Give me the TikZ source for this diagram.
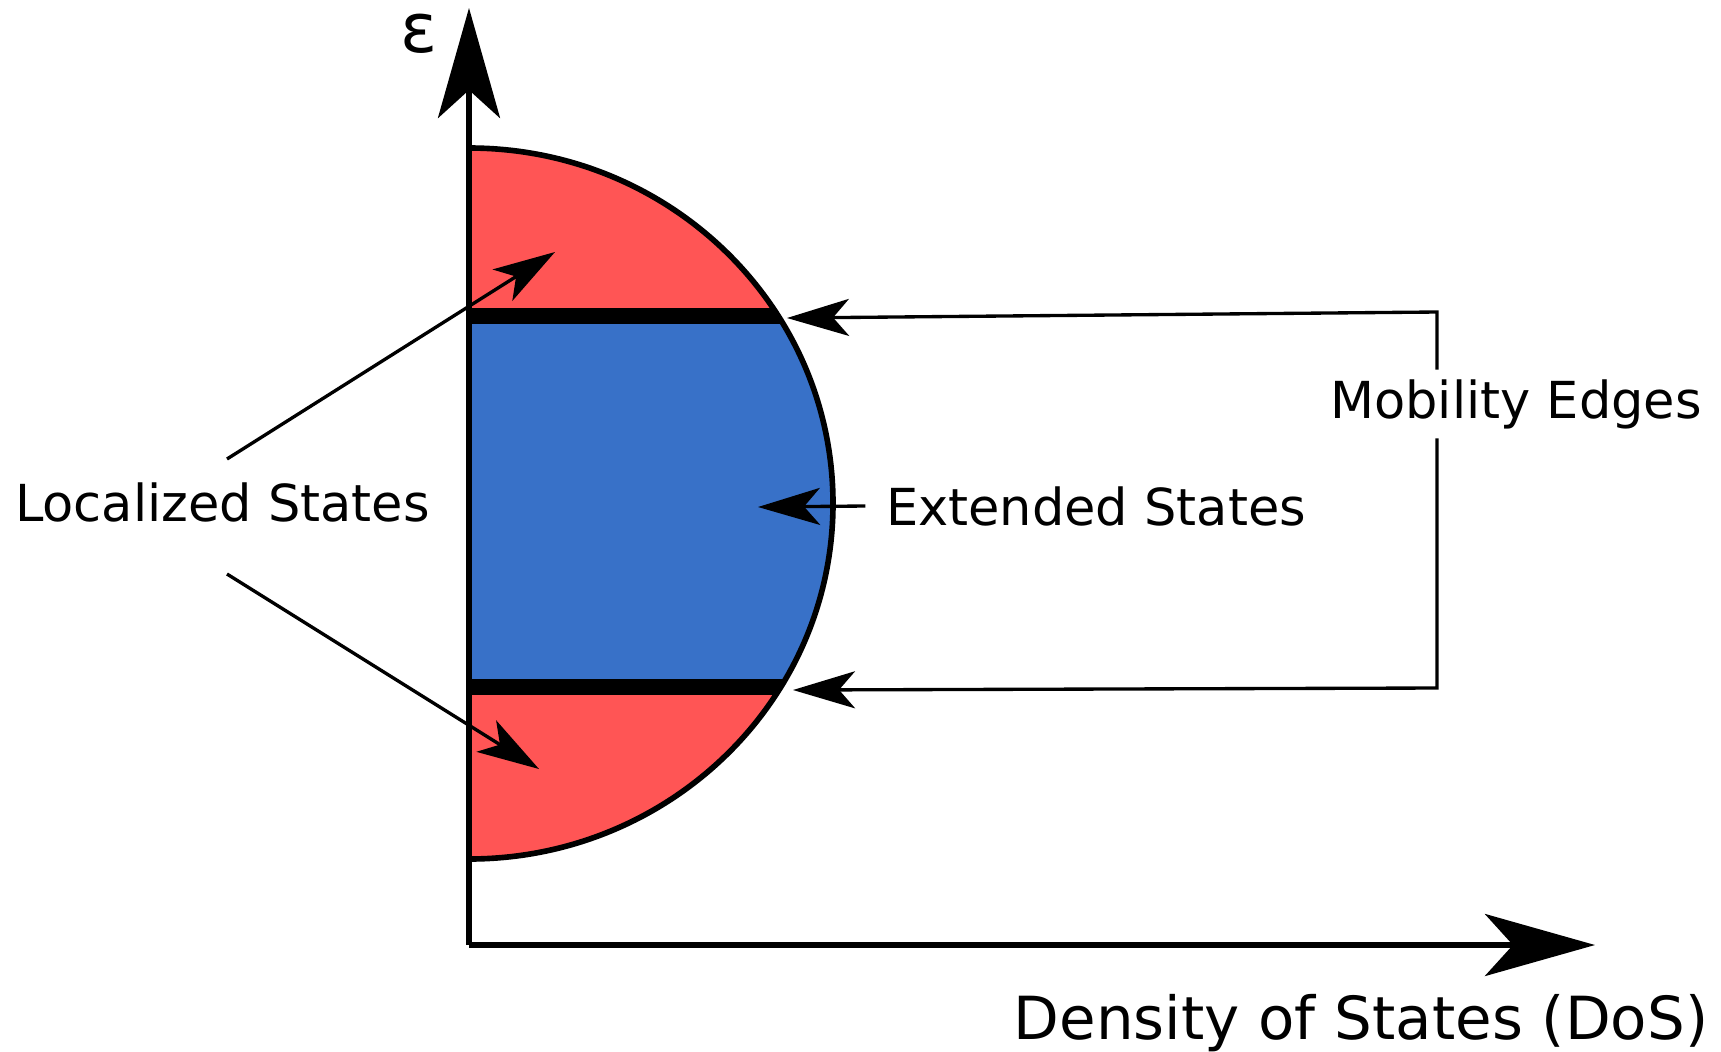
\documentclass[tikz,border=0pt]{standalone}
\usepackage{fontspec}
\setmainfont{DejaVu Sans}
\usetikzlibrary{arrows.meta}
\definecolor{dosRed}{HTML}{FF5555}
\definecolor{dosBlue}{HTML}{3871C8}

\begin{document}
\begin{tikzpicture}[
  x=0.01cm, y=-0.01cm,
  axis/.style={-{Stealth[length=1.1cm, width=0.62cm, inset=0.28cm]}, line width=1.5pt},
  ptr/.style={-{Stealth[length=0.62cm, width=0.37cm, inset=0.16cm]}, line width=0.95pt},
  lbl/.style={font=\fontsize{14.5}{17}\selectfont, inner sep=0pt, anchor=base},
  medge/.style={line width=4.7pt},
  rim/.style={line width=1.6pt},
]
\useasboundingbox (0,0) rectangle (1721,1051);

% ── half disc: localized tails (red), extended band (blue), mobility edges ──
\begin{scope}
  \clip (469,148) arc[start angle=-90, end angle=90, x radius=364, y radius=355.5] -- cycle;
  \fill[dosRed] (460,140) rectangle (850,870);
  \fill[dosBlue] (460,316) rectangle (850,687);
  \draw[medge] (460,316) -- (850,316);
  \draw[medge] (460,687) -- (850,687);
\end{scope}
\draw[rim] (469,148) arc[start angle=-90, end angle=90, x radius=364, y radius=355.5];

% ── axes ──
\coordinate (origin) at (469,945);
\coordinate (yend) at (469,8);
\coordinate (xend) at (1595,945);
\draw[axis] (origin) -- (yend);
\draw[axis] (origin) -- (xend);

% ── labels ──
\node[lbl, font=\fontsize{19.5}{22}\selectfont] (eps) at (419,52) {ε};
\node[lbl, font=\fontsize{16.9}{20}\selectfont] (dos) at (1361,1039) {Density of States (DoS)};
\node[lbl] (loc) at (222.5,521) {Localized States};
\node[lbl, inner xsep=0.2cm] (ext) at (1096,525) {Extended States};
\node[lbl, inner ysep=0.09cm] (mob) at (1516,418) {Mobility Edges};

% ── pointers ──
\coordinate (locTop) at (227,459);
\coordinate (locBot) at (227,574);
\coordinate (locUpTip) at (555,252);
\coordinate (locDnTip) at (539,769);
\draw[ptr] (locTop) -- (locUpTip);
\draw[ptr] (locBot) -- (locDnTip);

\coordinate (extTip) at (758,507);
\draw[ptr] (ext.west) -- (extTip);

\coordinate (meTopCorner) at (1437,312);
\coordinate (meBotCorner) at (1437,688);
\coordinate (meTopTip) at (787,318);
\coordinate (meBotTip) at (793,690);
\draw[ptr] (meTopCorner |- mob.north) -- (meTopCorner) -- (meTopTip);
\draw[ptr] (meBotCorner |- mob.south) -- (meBotCorner) -- (meBotTip);

\end{tikzpicture}
\end{document}
